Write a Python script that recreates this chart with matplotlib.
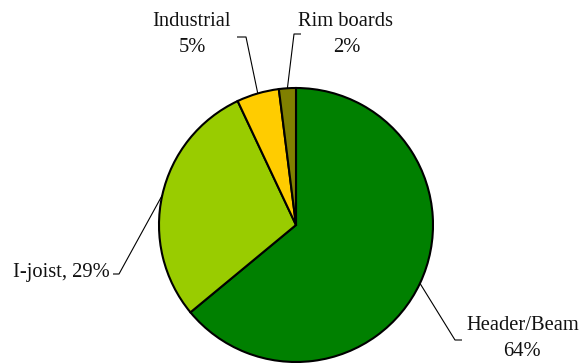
import numpy as np
import matplotlib
matplotlib.use("Agg")
import matplotlib.pyplot as plt

categories = ["Header/Beam", "I-joist", "Industrial", "Rim boards"]
values = [64, 29, 5, 2]
colors = ["#008000", "#99CC00", "#FFCC00", "#808000"]

W, H = 586, 363
fig = plt.figure(figsize=(W / 100, H / 100), dpi=100)
ax = fig.add_axes([0, 0, 1, 1])

cx, cy, r = 296, H - 225, 137
wedges, _ = ax.pie(values, colors=colors, startangle=90, counterclock=False,
                   center=(cx, cy), radius=r, frame=True,
                   wedgeprops=dict(edgecolor="black", linewidth=1.5))
ax.set_xlim(0, W)
ax.set_ylim(0, H)
ax.set_aspect("equal")
ax.axis("off")

font = dict(family="Liberation Serif", fontsize=14.8, color="#111111")

# label elbow points in image pixel coords
elbows = {
    "Header/Beam": [(455, 340), (462, 340)],
    "I-joist": [(119, 274), (113, 274)],
    "Industrial": [(246, 37), (237, 37)],
    "Rim boards": [(294, 34), (301, 34)],
}
for w, cat in zip(wedges, categories):
    mid = np.deg2rad((w.theta1 + w.theta2) / 2)
    px, py = cx + r * np.cos(mid), cy + r * np.sin(mid)
    pts = [(px, py)] + [(x, H - y) for x, y in elbows[cat]]
    xs, ys = zip(*pts)
    ax.plot(xs, ys, color="black", lw=0.8, solid_capstyle="butt")

pct = {c: f"{v}%" for c, v in zip(categories, values)}
ax.text(523, H - 325, "Header/Beam", ha="center", va="center", **font)
ax.text(522, H - 352, pct["Header/Beam"], ha="center", va="center", **font)
ax.text(110, H - 272, f"I-joist, {pct['I-joist']}", ha="right", va="center", **font)
ax.text(191, H - 22, "Industrial", ha="center", va="center", **font)
ax.text(192, H - 48, pct["Industrial"], ha="center", va="center", **font)
ax.text(345, H - 21, "Rim boards", ha="center", va="center", **font)
ax.text(347, H - 47, pct["Rim boards"], ha="center", va="center", **font)

fig.savefig("out.png", dpi=100)
